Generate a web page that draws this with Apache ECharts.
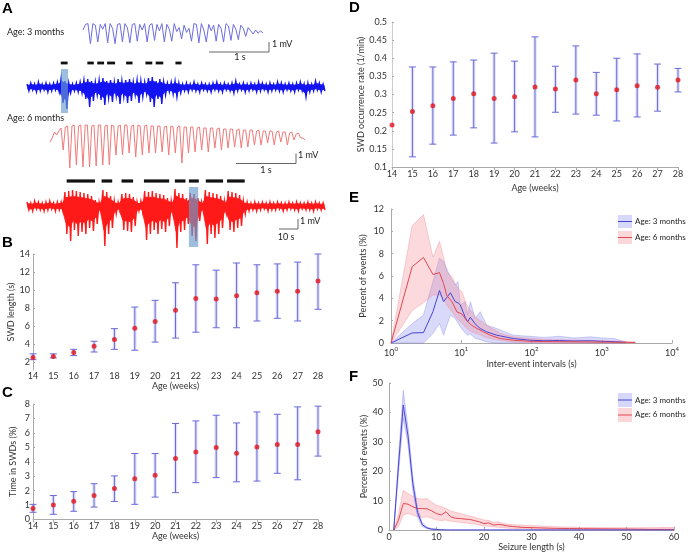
<!DOCTYPE html>
<html><head><meta charset="utf-8">
<script src="https://cdn.jsdelivr.net/npm/echarts@6/dist/echarts.min.js"></script>
<style>html,body{margin:0;padding:0;background:#fff}#c{width:688px;height:553px}</style>
</head><body><div id="c"></div>
<script>
// ---------- Panel A: EEG traces ----------
const BLUE_SHORT = [-0.5,0.2,0.3,-2.2,0.3,0.1,-2.0,0.2,-0.4,0.3,
 -2.1,0.3,-0.3,-2.2,0.2,0.3,-2.0,0.3,-0.2,-2.1,
 0.2,0.3,-1.9,0.2,-0.5,0.3,-2.0,0.1,0.3,-1.8,
 0.2,-0.6,0.3,-2.0,0.2,-0.4,-1.9,0.3,-0.7,-0.2,
 -1.6,0.1,-0.8,-0.3,-1.9,0.3,0.2,-2.1,0.3,-0.5,
 -2.0,0.2,-0.6,0.1,-1.9,0.2,-0.3,-2.0,0.3,0.0,
 -1.8,0.2,-0.4,-1.7,0.1,-0.3,-1.3,-0.2,-0.6,-1.0,
 -0.5,-0.9,-0.6,-0.9];
const RED_SHORT = [-1.4,-1.0,-0.4,-0.7,-0.3,0.0,
 -2.2,0.1,0.2, -4.0,0.2,0.3, -3.7,0.2,0.3, -3.9,0.3,0.3, -3.9,0.2,0.3,
 -3.8,0.3,0.3, -3.7,0.2,0.3, -3.7,0.3,0.2, -2.7,0.2,0.3, -2.7,0.3,0.3,
 -2.5,0.2,0.3, -2.9,0.3,0.2, -2.7,0.2,0.3, -2.5,0.2,0.2, -2.5,0.2,0.2,
 -2.4,0.1,0.2, -2.7,0.2,0.1, -2.5,0.1,0.2, -3.5,0.1,0.1, -2.5,0.1,0.1,
 -2.4,0.0,0.1, -2.2,0.0,0.0, -2.4,0.0,0.0, -2.0,-0.1,0.0, -2.2,-0.1,-0.1,
 -2.0,-0.1,-0.1, -1.9,-0.2,-0.1, -2.0,-0.2,-0.2, -1.9,-0.2,-0.2, -1.7,-0.3,-0.2,
 -1.7,-0.3,-0.3, -1.5,-0.3,-0.3, -1.7,-0.4,-0.3, -1.4,-0.4,-0.4, -1.7,-0.5,-0.4,
 -1.2,-0.6,-0.5, -1.0,-1.0,-1.2];
const LONG_DT = 2; // seconds per envelope sample
const BLUE_LONG_HI = [0.3,0.4,0.3,0.5,0.3,0.4,0.3,0.4,0.5,0.9,
 0.6,0.4,0.3,0.4,0.5,0.7,0.8,0.6,0.5,0.7,
 0.9,0.6,0.7,0.5,0.8,0.6,0.7,0.8,0.5,0.7,
 0.6,0.5,0.9,1.0,0.6,0.8,0.5,0.4,0.5,0.6,
 0.4,0.3,0.4,0.3,0.5,0.3,0.4,0.3,0.3,0.4,
 0.5,0.3,0.4,0.3,0.4,0.6,0.3,0.4,0.3,0.4,
 0.3,0.5,0.4,0.3,0.4,0.3,0.5,0.4,0.3,0.4,
 0.3,0.4,0.5,0.3,0.4,0.3,0.6,0.4,0.3];
const BLUE_LONG_LO = [-0.4,-0.3,-0.5,-0.4,-0.3,-0.5,-0.4,-0.3,-0.5,-1.6,
 -2.2,-0.6,-0.4,-0.5,-0.6,-1.2,-2.0,-1.4,-0.8,-1.3,
 -1.8,-1.1,-1.5,-0.9,-1.7,-1.0,-1.6,-1.4,-0.8,-1.6,
 -1.0,-0.7,-1.5,-2.0,-1.2,-1.7,-0.8,-0.5,-0.7,-1.0,
 -0.6,-0.4,-0.5,-0.3,-0.4,-0.5,-0.3,-0.4,-0.5,-0.3,
 -0.4,-0.5,-0.3,-0.4,-0.6,-0.4,-0.3,-0.5,-0.4,-0.3,
 -0.5,-0.4,-0.3,-0.5,-0.4,-0.3,-0.4,-0.5,-0.3,-0.4,
 -0.5,-0.3,-0.4,-1.0,-0.5,-0.4,-0.3,-0.5,-0.4];
const RED_LONG_HI = [0.4,0.3,0.5,0.4,0.3,0.4,0.5,0.3,0.4,0.4,
 1.4,1.5,1.6,1.5,1.4,1.3,1.2,1.0,0.6,0.4,
 1.6,1.4,1.0,0.5,0.4,1.2,1.3,1.2,0.9,0.4,
 0.5,1.5,1.4,1.5,1.3,1.2,1.1,0.8,0.5,1.7,
 1.3,1.2,0.8,1.3,1.2,0.8,0.4,1.6,1.4,1.3,
 1.2,1.0,0.5,1.5,1.4,1.3,1.1,0.5,0.4,0.3,
 0.4,0.3,0.4,0.3,0.4,0.3,0.4,0.3,0.3,0.4,
 0.3,0.4,0.3,0.3,0.4,0.3,0.4,0.3,0.3];
const RED_LONG_LO = [-0.4,-0.5,-0.3,-0.4,-0.5,-0.4,-0.3,-0.5,-0.4,-0.5,
 -2.8,-3.5,-2.4,-3.0,-2.6,-2.8,-2.2,-2.5,-1.8,-0.5,
 -4.0,-2.8,-2.2,-0.8,-0.5,-2.4,-2.5,-2.6,-2.0,-0.5,
 -0.6,-3.4,-2.8,-2.4,-2.8,-2.3,-2.6,-2.0,-0.8,-4.2,
 -2.6,-2.4,-1.8,-3.0,-3.5,-1.5,-0.5,-3.8,-2.8,-3.2,
 -2.8,-2.2,-0.7,-2.4,-2.6,-2.2,-2.0,-0.8,-0.5,-0.4,
 -0.5,-0.4,-0.3,-0.5,-0.4,-0.4,-0.3,-0.5,-0.4,-0.3,
 -0.4,-0.5,-0.3,-0.4,-0.4,-0.5,-0.3,-0.4,-0.4];
const BLUE_SEIZ_START = [17.8,31.8,37.0,42.2,52.2,62.4,67.8,78.2];
const BLUE_SEIZ_END   = [21.4,35.2,40.6,46.4,55.6,66.0,71.8,81.4];
const RED_SEIZ_START  = [20.9,39.3,49.8,61.6,77.9,85.3,94.2,105.4];
const RED_SEIZ_END    = [35.8,44.9,55.9,74.9,83.5,90.5,103.3,114.7];
const BLUE_HIGHLIGHT = [17.9,21.6,-2.6,1.8];
const RED_HIGHLIGHT  = [85.3,90.2,-4.1,1.9];

// ---------- Panels B, C, D ----------
const WEEKS = [14,15,16,17,18,19,20,21,22,23,24,25,26,27,28];
const B_MEAN = [2.5,2.6,3.05,3.75,4.5,5.75,6.5,7.75,9.05,9.0,9.35,9.7,9.85,9.85,11.0];
const B_LOW  = [2.25,2.45,2.7,3.1,3.4,3.3,4.2,4.65,5.3,5.8,5.8,6.55,6.85,6.55,7.85];
const B_HIGH = [2.9,2.9,3.4,4.3,5.7,8.1,8.85,10.8,12.8,12.2,13.0,12.8,12.9,13.1,14.0];
const C_MEAN = [0.77,1.0,1.27,1.66,2.14,2.82,3.07,4.23,4.68,4.98,4.59,5.02,5.2,5.2,6.07];
const C_LOW  = [0.5,0.36,0.57,0.86,1.25,1.05,1.55,1.86,2.55,2.9,2.61,2.66,3.2,2.75,4.39];
const C_HIGH = [1.05,1.66,1.93,2.48,3.02,4.57,4.57,6.65,6.83,7.22,6.69,7.45,7.29,7.8,7.85];
const D_MEAN = [0.216,0.253,0.269,0.289,0.302,0.289,0.294,0.321,0.315,0.34,0.302,0.313,0.324,0.32,0.34];
const D_LOW  = [null,0.128,0.163,0.188,0.208,0.166,0.197,0.183,0.251,0.246,0.243,0.227,0.238,0.254,0.307];
const D_HIGH = [null,0.376,0.376,0.39,0.395,0.414,0.392,0.459,0.378,0.434,0.361,0.4,0.412,0.384,0.372];
const B_YTICKS = [2,4,6,8,10,12,14];

// ---------- Panel E ----------
const E_RED_X    = [1,2.0,2.9,3.95,4.9,5.6,6.2,7.4,8.7,10.2,12,14,16.7,20.7,25.8,36,55,95,200,500,1000,2000,3000];
const E_RED_MEAN = [0,6.83,7.66,6.14,6.3,5.33,4.28,3.68,2.78,2.6,2.0,1.6,1.3,1.0,0.7,0.4,0.25,0.15,0.12,0.1,0.08,0.06,0.05];
const E_RED_UP   = [0,10.5,11.5,7.7,9.1,7.7,6.4,5.9,5.0,4.6,3.4,2.8,2.2,1.8,1.4,0.85,0.55,0.4,0.3,0.25,0.2,0.15,0.1];
const E_RED_LOW  = [0,2.9,3.6,4.3,4.3,4.0,3.4,2.8,2.2,1.8,1.3,1.0,0.85,0.6,0.4,0.25,0.1,0.05,0,0,0,0,0];
const E_BLUE_X    = [1,2.0,2.9,3.95,4.9,5.6,7.0,8.2,9.0,9.7,11.4,12.3,13.5,15.8,18.6,23,32,55,95,150,250,400,700,1000,1500,2200];
const E_BLUE_MEAN = [0,0.9,0.93,2.8,4.7,3.7,4.5,3.7,3.6,3.4,2.3,1.9,2.3,1.7,1.3,1.0,0.7,0.4,0.25,0.2,0.22,0.18,0.2,0.15,0.12,0.05];
const E_BLUE_UP   = [0,1.74,2.5,5.5,7.6,7.3,5.9,5.2,5.5,3.4,3.7,2.5,3.7,2.2,2.8,1.6,1.3,0.7,0.6,0.5,0.6,0.45,0.55,0.45,0.4,0.1];
const E_BLUE_LOW  = [0,0,0,0.84,1.74,0.7,2.5,2.2,1.8,1.44,0.9,0.7,0.8,0.4,0.3,0.1,0,0,0,0,0,0,0,0,0,0];

// ---------- Panel F ----------
const F_X = [1,2,3,4,5,6,7,8,9,10,11,12,13,14,15,16,17,18,19,20,21,22,23,24,25,26,28,30,32,35,38,41,45,50,55,60];
const F_BLUE_MEAN = [0,22,42.5,32,16,6,1.8,0.7,0.3,0.2,0.1,0,0,0,0,0,0,0,0,0,0,0,0,0,0,0,0,0,0,0,0,0,0,0,0,0];
const F_BLUE_UP   = [0,25,47.5,35,18.5,7.5,2.5,1.0,0.5,0.3,0.1,0,0,0,0,0,0,0,0,0,0,0,0,0,0,0,0,0,0,0,0,0,0,0,0,0];
const F_BLUE_LOW  = [0,19,38,29,13.5,4.5,1.2,0.4,0.1,0,0,0,0,0,0,0,0,0,0,0,0,0,0,0,0,0,0,0,0,0,0,0,0,0,0,0];
const F_RED_MEAN = [0,3.4,9.0,8.8,7.9,7.3,7.3,7.2,6.5,5.6,5.1,6.2,4.5,4.0,3.9,3.7,3.6,3.2,2.8,2.2,2.4,1.7,1.9,1.7,1.35,1.2,0.9,0.8,0.7,0.56,0.5,0.45,0.4,0.34,0.22,0.2];
const F_RED_UP   = [0,5.6,13.5,12.4,11.5,10.7,10.5,10.7,9.5,8.4,8.0,7.3,6.5,6.0,5.6,5.2,4.8,4.3,3.9,3.4,3.2,2.6,2.8,2.2,2.0,1.8,1.7,1.5,1.35,1.1,1.0,0.9,0.8,0.8,0.8,0.9];
const F_RED_LOW  = [0,1.1,5.1,5.6,5.1,4.5,4.3,4.5,4.0,3.4,3.2,3.4,3.0,2.8,2.6,2.4,2.2,2.0,1.7,1.4,1.3,1.1,0.9,0.8,0.6,0.5,0.45,0.3,0.2,0.1,0.1,0.05,0,0,0,0];

// ---------- building ----------
const FONT = 'Lato, "Open Sans", sans-serif';
const TXT = '#333';
const lbl = (extra) => Object.assign({fontSize:9, color:TXT, fontFamily:FONT}, extra || {});
const nameStyle = {fontSize:9, color:TXT, fontFamily:FONT};
const CORE = 0.6; // share of the envelope drawn as the dense solid core of the trace

// long EEG trace: min/max envelope drawn as a solid core plus a dense up/down stroke
function longTrace(ax, lo, hi, color) {
  return {type:'custom', xAxisIndex:ax, yAxisIndex:ax, silent:true, z:2,
    data: hi.map((h, i) => [i * LONG_DT, lo[i], h]),
    encode:{x:0, y:[1,2]},
    renderItem(params, api) {
      if (params.dataIndex !== 0) return null;
      const pts = [], top = [], bot = [];
      hi.forEach((h, i) => {
        const t = i * LONG_DT;
        pts.push(api.coord([t, h]));
        pts.push(api.coord([t + LONG_DT / 2, lo[i]]));
        top.push(api.coord([t + LONG_DT / 4, h * CORE]));
        bot.push(api.coord([t + LONG_DT / 4, lo[i] * CORE]));
      });
      return {type:'group', children:[
        {type:'polygon', shape:{points: top.concat(bot.reverse())}, style:{fill:color, stroke:color, lineWidth:0.8}},
        {type:'polyline', shape:{points:pts}, style:{stroke:color, lineWidth:1.4, fill:null}}
      ]};
    }};
}
function seizureDashes(ax, starts, ends, level, width) {
  return {type:'custom', xAxisIndex:ax, yAxisIndex:ax, silent:true, z:3,
    data: starts.map((s, i) => [s, ends[i]]),
    encode:{x:[0,1]},
    renderItem(params, api) {
      const p1 = api.coord([api.value(0), level]);
      const p2 = api.coord([api.value(1), level]);
      return {type:'line', shape:{x1:p1[0], y1:p1[1], x2:p2[0], y2:p2[1]}, style:{stroke:'#111', lineWidth:width}};
    }};
}
function highlight(ax, h) {
  return {type:'custom', xAxisIndex:ax, yAxisIndex:ax, silent:true, z:5,
    data:[h], encode:{x:[0,1], y:[2,3]},
    renderItem(params, api) {
      const p1 = api.coord([api.value(0), api.value(3)]);
      const p2 = api.coord([api.value(1), api.value(2)]);
      return {type:'rect', shape:{x:p1[0], y:p1[1], width:p2[0]-p1[0], height:p2[1]-p1[1]},
        style:{fill:'rgba(105,155,205,0.65)'}};
    }};
}
function errSeries(ax, lows, highs) {
  return {type:'custom', xAxisIndex:ax, yAxisIndex:ax, silent:true, z:2,
    data: WEEKS.map((w, i) => [w, lows[i] == null ? '-' : lows[i], highs[i] == null ? '-' : highs[i]]),
    encode:{x:0, y:[1,2]},
    renderItem(params, api) {
      const x = api.value(0), lo = api.value(1), hi = api.value(2);
      if (isNaN(lo) || isNaN(hi)) return null;
      const a = api.coord([x, lo]), b = api.coord([x, hi]);
      const w = 3.5;
      const st = {stroke:'#6a6ad8', lineWidth:1};
      return {type:'group', children:[
        {type:'line', shape:{x1:a[0], y1:a[1], x2:b[0], y2:b[1]}, style:{stroke:'rgba(160,160,240,0.3)', lineWidth:3.5}},
        {type:'line', shape:{x1:a[0], y1:a[1], x2:b[0], y2:b[1]}, style:st},
        {type:'line', shape:{x1:a[0]-w, y1:a[1], x2:a[0]+w, y2:a[1]}, style:st},
        {type:'line', shape:{x1:b[0]-w, y1:b[1], x2:b[0]+w, y2:b[1]}, style:st}
      ]};
    }};
}
function meanDots(ax, means) {
  return {type:'scatter', xAxisIndex:ax, yAxisIndex:ax, silent:true, z:4, symbolSize:5,
    itemStyle:{color:'#e3141c'}, data: WEEKS.map((w, i) => [w, means[i]])};
}
// shaded band (mean ± spread) drawn as a single polygon through the axis scales
function band(ax, xs, low, up, fill, edge) {
  return {type:'custom', xAxisIndex:ax, yAxisIndex:ax, silent:true, z:1,
    data: xs.map((x, i) => [x, low[i], up[i]]),
    encode:{x:0, y:[1,2]},
    renderItem(params, api) {
      if (params.dataIndex !== 0) return null;
      const top = xs.map((x, i) => api.coord([x, up[i]]));
      const bot = xs.map((x, i) => api.coord([x, low[i]])).reverse();
      return {type:'group', children:[
        {type:'polygon', shape:{points: top.concat(bot)}, style:{fill, stroke:null}},
        {type:'polyline', shape:{points: top}, style:{stroke:edge, lineWidth:0.6, fill:null}},
        {type:'polyline', shape:{points: bot}, style:{stroke:edge, lineWidth:0.6, fill:null}}
      ]};
    }};
}
function meanLine(ax, xs, ys, color) {
  return {type:'line', xAxisIndex:ax, yAxisIndex:ax, symbol:'none', silent:true, z:3,
    data: xs.map((x, i) => [x, ys[i]]), lineStyle:{color, width:1}};
}

const weekAxis = (idx, nameGap, showLine, margin) => ({
  type:'value', gridIndex:idx, min:14, max:28, interval:1,
  axisLine:{show:showLine, lineStyle:{color:'#aaa', width:1}},
  axisTick:{show:showLine, length:3, lineStyle:{color:'#aaa'}},
  axisLabel:lbl({margin}), splitLine:{show:false},
  name:'Age (weeks)', nameLocation:'middle', nameGap, nameTextStyle:nameStyle
});
const yStd = (idx, name, nameGap, extra) => Object.assign({
  type:'value', gridIndex:idx,
  axisLine:{show:true, lineStyle:{color:'#aaa', width:1}},
  axisTick:{show:true, inside:true, length:2, lineStyle:{color:'#aaa'}},
  splitLine:{show:false},
  name, nameLocation:'middle', nameRotate:90, nameGap, nameTextStyle:nameStyle
}, extra);

const legendText = (y, text) => ({type:'text', x:635, y, silent:true,
  style:{text, fontSize:8, fontFamily:FONT, fill:'#222', verticalAlign:'middle'}});

const option = {
  animation:false,
  backgroundColor:'#fff',
  grid:[
    {left:83, top:18, width:180, height:40},
    {left:27, top:57, width:298, height:60},
    {left:50, top:118, width:255, height:60},
    {left:27, top:176, width:298, height:80},
    {left:33, top:254, width:285, height:116},
    {left:33, top:404, width:285, height:115.5},
    {left:392, top:22, width:286, height:145},
    {left:391, top:209, width:281, height:134},
    {left:389, top:383, width:285, height:149}
  ],
  xAxis:[
    {type:'category', gridIndex:0, show:false, boundaryGap:false},
    {type:'value', gridIndex:1, show:false, min:0, max:157},
    {type:'category', gridIndex:2, show:false, boundaryGap:false},
    {type:'value', gridIndex:3, show:false, min:0, max:157},
    weekAxis(4, 7, false, 2),
    weekAxis(5, 12, true, 2),
    weekAxis(6, 17, true, 3),
    {type:'log', gridIndex:7, min:1, max:10000, logBase:10,
     axisLine:{show:true, lineStyle:{color:'#aaa'}},
     axisTick:{show:true, inside:true, length:3, lineStyle:{color:'#aaa'}},
     splitLine:{show:false},
     axisLabel:{margin:3, formatter:(v) => '{b|10}{s|' + Math.round(Math.log(v) / Math.LN10) + '}',
       rich:{b:{fontSize:9, color:TXT, fontFamily:FONT, lineHeight:12, verticalAlign:'bottom'},
             s:{fontSize:6, color:TXT, fontFamily:FONT, verticalAlign:'top'}}},
     name:'Inter-event intervals (s)', nameLocation:'middle', nameGap:17, nameTextStyle:nameStyle},
    {type:'value', gridIndex:8, min:0, max:60, interval:10,
     axisLine:{show:true, lineStyle:{color:'#aaa'}},
     axisTick:{show:true, inside:true, length:3, lineStyle:{color:'#aaa'}},
     splitLine:{show:false}, axisLabel:lbl({margin:3}),
     name:'Seizure length (s)', nameLocation:'middle', nameGap:13, nameTextStyle:nameStyle}
  ],
  yAxis:[
    {type:'value', gridIndex:0, show:false, min:-4, max:1},
    {type:'value', gridIndex:1, show:false, min:-3, max:3},
    {type:'value', gridIndex:2, show:false, min:-5, max:1},
    {type:'value', gridIndex:3, show:false, min:-5, max:3},
    yStd(4, 'SWD length (s)', 15.5, {min:1.1, max:14,
      axisLabel:lbl({margin:3, customValues:B_YTICKS}),
      axisTick:{show:true, inside:true, length:2, lineStyle:{color:'#aaa'}, customValues:B_YTICKS}}),
    yStd(5, 'Time in SWDs (%)', 15.5, {min:0, max:8, interval:1, axisLabel:lbl({margin:3})}),
    yStd(6, 'SWD occurrence rate (1/min)', 24.5, {min:0.1, max:0.5, interval:0.05, axisLabel:lbl({margin:5}),
      axisLine:{show:true, lineStyle:{color:'#ccc'}}}),
    yStd(7, 'Percent of events (%)', 23, {min:0, max:12, interval:2, axisLabel:lbl({margin:7})}),
    yStd(8, 'Percent of events (%)', 18.5, {min:0, max:50, interval:10, axisLabel:lbl({margin:6})})
  ],
  series:[
    {type:'line', xAxisIndex:0, yAxisIndex:0, data:BLUE_SHORT, symbol:'none', silent:true,
     lineStyle:{color:'#6c6ce2', width:1}},
    longTrace(1, BLUE_LONG_LO, BLUE_LONG_HI, '#1414f2'),
    seizureDashes(1, BLUE_SEIZ_START, BLUE_SEIZ_END, 2.4, 2.8),
    highlight(1, BLUE_HIGHLIGHT),
    {type:'line', xAxisIndex:2, yAxisIndex:2, data:RED_SHORT, symbol:'none', silent:true,
     lineStyle:{color:'#f07a7a', width:1}},
    longTrace(3, RED_LONG_LO, RED_LONG_HI, '#ff1a1a'),
    seizureDashes(3, RED_SEIZ_START, RED_SEIZ_END, 2.5, 3.2),
    highlight(3, RED_HIGHLIGHT),
    errSeries(4, B_LOW, B_HIGH), meanDots(4, B_MEAN),
    errSeries(5, C_LOW, C_HIGH), meanDots(5, C_MEAN),
    errSeries(6, D_LOW, D_HIGH), meanDots(6, D_MEAN),
    band(7, E_BLUE_X, E_BLUE_LOW, E_BLUE_UP, 'rgba(140,140,238,0.33)', 'rgba(110,110,225,0.5)'),
    band(7, E_RED_X, E_RED_LOW, E_RED_UP, 'rgba(245,140,150,0.33)', 'rgba(235,110,120,0.5)'),
    meanLine(7, E_BLUE_X, E_BLUE_MEAN, '#4646d6'),
    meanLine(7, E_RED_X, E_RED_MEAN, '#e04852'),
    band(8, F_X, F_RED_LOW, F_RED_UP, 'rgba(245,140,150,0.33)', 'rgba(235,110,120,0.5)'),
    band(8, F_X, F_BLUE_LOW, F_BLUE_UP, 'rgba(140,140,238,0.38)', 'rgba(110,110,225,0.5)'),
    meanLine(8, F_X, F_RED_MEAN, '#e04852'),
    meanLine(8, F_X, F_BLUE_MEAN, '#4646d6')
  ],
  graphic:[
    ...[['A',2,8.5],['B',2,243],['C',2,393],['D',349,8],['E',349,198],['F',349,377]].map(([t,x,y]) => ({
      type:'text', x, y, silent:true,
      style:{text:t, fontSize:15, fontWeight:'bold', fontFamily:'"Liberation Sans", Arial, sans-serif', fill:'#000', verticalAlign:'middle'}})),
    {type:'text', x:7, y:32, silent:true, style:{text:'Age: 3 months', fontSize:9, fontFamily:FONT, fill:'#222', verticalAlign:'middle'}},
    {type:'text', x:7, y:118, silent:true, style:{text:'Age: 6 months', fontSize:9, fontFamily:FONT, fill:'#222', verticalAlign:'middle'}},
    // scale bars
    {type:'polyline', silent:true, shape:{points:[[209,52],[269,52],[269,42]]}, style:{stroke:'#666', lineWidth:1, fill:null}},
    {type:'text', x:272, y:44.5, silent:true, style:{text:'1 mV', fontSize:9, fontFamily:FONT, fill:'#222', verticalAlign:'middle'}},
    {type:'text', x:240, y:57.5, silent:true, style:{text:'1 s', fontSize:9, fontFamily:FONT, fill:'#222', align:'center', verticalAlign:'middle'}},
    {type:'polyline', silent:true, shape:{points:[[236,163.5],[296,163.5],[296,153.5]]}, style:{stroke:'#666', lineWidth:1, fill:null}},
    {type:'text', x:298, y:155.5, silent:true, style:{text:'1 mV', fontSize:9, fontFamily:FONT, fill:'#222', verticalAlign:'middle'}},
    {type:'text', x:266, y:170, silent:true, style:{text:'1 s', fontSize:9, fontFamily:FONT, fill:'#222', align:'center', verticalAlign:'middle'}},
    {type:'polyline', silent:true, shape:{points:[[279,229],[298,229],[298,219]]}, style:{stroke:'#666', lineWidth:1, fill:null}},
    {type:'text', x:300, y:221.5, silent:true, style:{text:'1 mV', fontSize:9, fontFamily:FONT, fill:'#222', verticalAlign:'middle'}},
    {type:'text', x:286, y:237, silent:true, style:{text:'10 s', fontSize:9, fontFamily:FONT, fill:'#222', align:'center', verticalAlign:'middle'}},
    // legends E
    {type:'rect', silent:true, shape:{x:618, y:215, width:14, height:13}, style:{fill:'rgba(140,140,238,0.35)'}},
    {type:'line', silent:true, shape:{x1:618, y1:221.5, x2:632, y2:221.5}, style:{stroke:'#4646d6', lineWidth:1}},
    legendText(221, 'Age: 3 months'),
    {type:'rect', silent:true, shape:{x:618, y:231, width:14, height:13}, style:{fill:'rgba(245,140,150,0.35)'}},
    {type:'line', silent:true, shape:{x1:618, y1:237.5, x2:632, y2:237.5}, style:{stroke:'#e04852', lineWidth:1}},
    legendText(237, 'Age: 6 months'),
    // legends F
    {type:'rect', silent:true, shape:{x:618, y:393, width:14, height:14}, style:{fill:'rgba(140,140,238,0.35)'}},
    {type:'line', silent:true, shape:{x1:618, y1:400, x2:632, y2:400}, style:{stroke:'#4646d6', lineWidth:1}},
    legendText(400, 'Age: 3 months'),
    {type:'rect', silent:true, shape:{x:618, y:408, width:14, height:14}, style:{fill:'rgba(245,140,150,0.35)'}},
    {type:'line', silent:true, shape:{x1:618, y1:415, x2:632, y2:415}, style:{stroke:'#e04852', lineWidth:1}},
    legendText(414, 'Age: 6 months')
  ]
};
const chart = echarts.init(document.getElementById('c'), null, {renderer:'canvas'});
chart.setOption(option);
</script></body></html>
